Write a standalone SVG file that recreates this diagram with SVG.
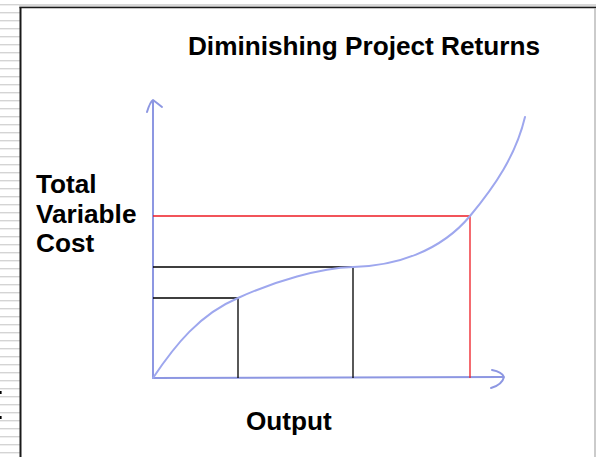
<svg xmlns="http://www.w3.org/2000/svg" width="596" height="457" viewBox="0 0 596 457">
  <defs>
    <pattern id="stripes" x="0" y="0" width="20" height="8" patternUnits="userSpaceOnUse">
      <rect x="0" y="4" width="20" height="1.4" fill="#d4d4d4"/>
    </pattern>
  </defs>
  <style>
    .lbl { font-family: "Liberation Sans", Arial, sans-serif; font-weight: bold; font-size: 26.2px; fill: #000; }
    .axis { fill: none; stroke: #8d97e2; stroke-width: 2; stroke-linecap: round; stroke-linejoin: round; }
    .curve { fill: none; stroke: #9ea7ee; stroke-width: 2; stroke-linecap: round; }
    .blk { fill: none; stroke: #000; stroke-width: 1.3; }
    .red { fill: none; stroke: #ee1c24; stroke-width: 1.3; }
  </style>

  <!-- page background and slide frame -->
  <rect width="596" height="457" fill="#ffffff"/>
  <rect x="0" y="0" width="20" height="457" fill="url(#stripes)"/>
  <rect x="19" y="4" width="577" height="3" fill="#d8d8d8"/>
  <line x1="20.5" y1="7" x2="20.5" y2="457" stroke="#1a1a1a" stroke-width="2"/>
  <line x1="19.5" y1="7.5" x2="596" y2="7.5" stroke="#1a1a1a" stroke-width="1.6"/>
  <line x1="595" y1="8" x2="595" y2="457" stroke="#a8a8a8" stroke-width="1.2"/>
  <rect x="0" y="391" width="1.6" height="3" fill="#000"/>
  <rect x="0" y="416" width="1.6" height="3" fill="#000"/>

  <!-- title -->
  <text class="lbl" x="364" y="55" text-anchor="middle">Diminishing Project Returns</text>

  <g id="connectors">
    <!-- axes -->
    <path class="axis" d="M153,378 L153,101"/>
    <path class="axis" d="M147,112 Q150,102 153,100 Q157,103 162,107"/>
    <path class="axis" d="M153,378 L503,377"/>
    <path class="axis" d="M492,370 Q502,372 504,377 Q502,385 491,388"/>
    <!-- guide lines -->
    <path class="blk" d="M153,298 H238 V378"/>
    <path class="blk" d="M153,267 H353 V378"/>
    <path class="red" d="M153,216 H470 V378"/>
  </g>

  <g id="cost-curve">
    <path class="curve" d="M153,378 C175,345 200,314 238,298 C275,281 320,268 353,267 C395,266 440,252 470,216 C495,186 516,155 525,117"/>
  </g>

  <g id="label-y">
    <text class="lbl" x="36" y="193">Total</text>
    <text class="lbl" x="36" y="223">Variable</text>
    <text class="lbl" x="36" y="252">Cost</text>
  </g>

  <g id="label-x">
    <text class="lbl" x="246" y="430">Output</text>
  </g>
</svg>
